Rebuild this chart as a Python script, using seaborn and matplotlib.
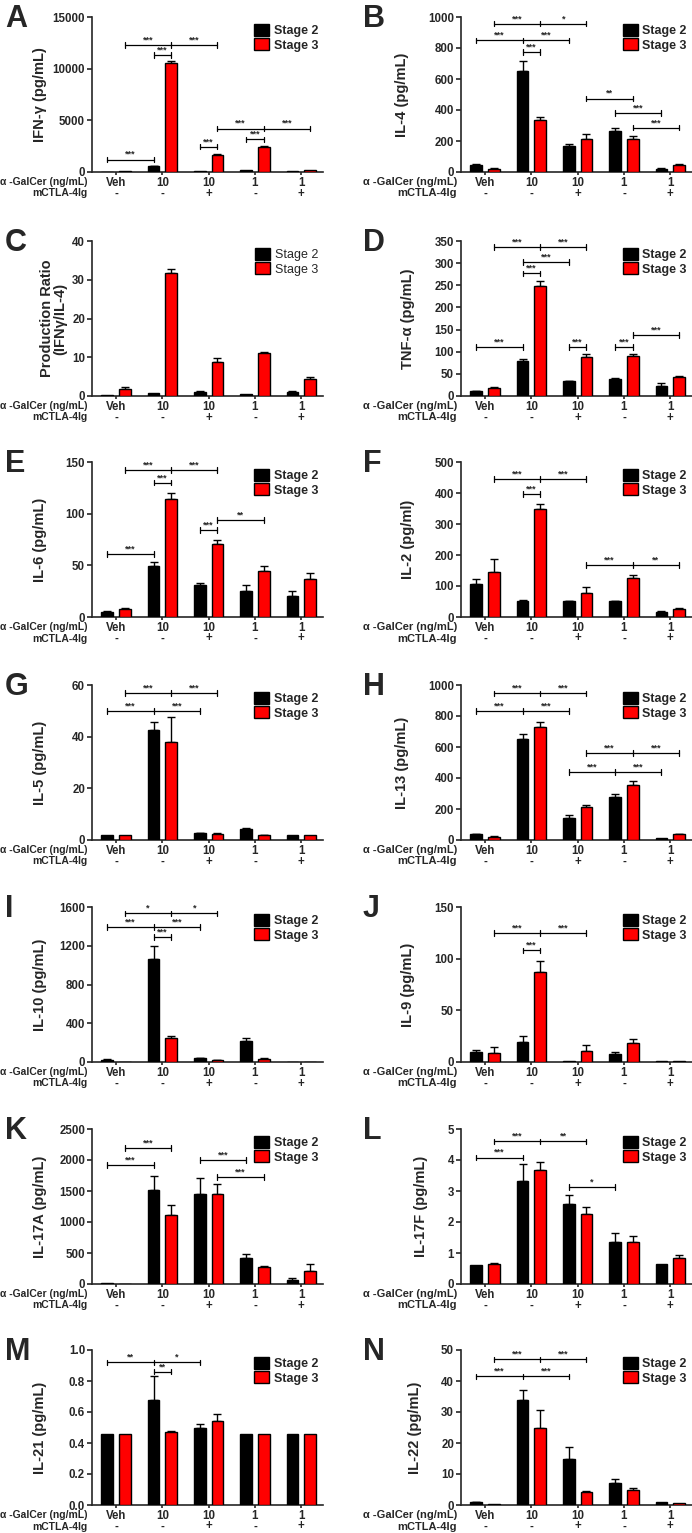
import matplotlib
matplotlib.use("Agg")
import matplotlib.pyplot as plt
import matplotlib.transforms as mtransforms
from matplotlib.container import BarContainer
from matplotlib.patches import Patch
import pandas as pd
import seaborn as sns

# categories
groups = ["Veh", "10", "10+", "1", "1+"]
dose_labels = ["Veh", "10", "10", "1", "1"]
ctla_labels = ["-", "-", "+", "-", "+"]
stages = ["Stage 2", "Stage 3"]
colors = ["black", "#ff0000"]

# values: mean stage 2 / stage 3, upper SEM
ifng_s2 = [30, 550, 130, 150, 50]
ifng_s3 = [50, 10550, 1680, 2400, 150]
ifng_e2 = [0, 60, 0, 0, 0]
ifng_e3 = [0, 200, 80, 150, 0]

il4_s2 = [48, 654, 167, 264, 22]
il4_s3 = [22, 335, 210, 214, 48]
il4_e2 = [4, 60, 15, 22, 3]
il4_e3 = [5, 22, 32, 18, 3]

ratio_s2 = [0.3, 0.8, 1.0, 0.6, 1.0]
ratio_s3 = [1.7, 31.8, 8.8, 11.2, 4.3]
ratio_e2 = [0, 0, 0.2, 0, 0.2]
ratio_e3 = [0.6, 1.0, 1.1, 0.2, 0.5]

tnf_s2 = [11, 78, 33, 39, 23]
tnf_s3 = [19, 249, 89, 91, 43]
tnf_e2 = [1, 5, 2, 2, 7]
tnf_e3 = [2, 10, 6, 4, 3]

il6_s2 = [5.2, 49.6, 31, 25.6, 20.7]
il6_s3 = [8, 114, 71, 45, 37]
il6_e2 = [0.8, 4, 2, 5, 4.5]
il6_e3 = [0.8, 6, 4, 4, 6]

il2_s2 = [108, 53, 51, 51, 17]
il2_s3 = [146, 348, 77, 125, 27]
il2_e2 = [15, 2, 2, 2, 1]
il2_e3 = [40, 15, 19, 10, 3]

il5_s2 = [1.8, 42.7, 2.7, 4.3, 1.8]
il5_s3 = [1.8, 38, 2.5, 2.0, 1.8]
il5_e2 = [0, 3.1, 0.2, 0.4, 0]
il5_e3 = [0, 9.5, 0.2, 0.1, 0]

il13_s2 = [37, 649, 141, 275, 11]
il13_s3 = [20, 729, 210, 355, 37]
il13_e2 = [3, 33, 19, 21, 0]
il13_e3 = [3, 31, 15, 28, 2]

il10_s2 = [24, 1062, 42, 212, 0]
il10_s3 = [3, 247, 21, 28, 0]
il10_e2 = [4, 139, 3, 34, 0]
il10_e3 = [0, 17, 2, 10, 0]

il9_s2 = [10, 19.4, 1.3, 8, 0.5]
il9_s3 = [9, 87, 11, 18.8, 0.5]
il9_e2 = [2, 5.6, 0, 2, 0]
il9_e3 = [5.6, 11, 5, 3.2, 0]

il17a_s2 = [10, 1511, 1446, 413, 71]
il17a_s3 = [0, 1109, 1446, 277, 217]
il17a_e2 = [0, 234, 261, 65, 27]
il17a_e3 = [0, 168, 163, 16, 109]

il17f_s2 = [0.61, 3.33, 2.59, 1.35, 0.66]
il17f_s3 = [0.64, 3.68, 2.25, 1.36, 0.84]
il17f_e2 = [0, 0.54, 0.28, 0.30, 0]
il17f_e3 = [0.03, 0.24, 0.24, 0.18, 0.10]

il21_s2 = [0.46, 0.68, 0.50, 0.46, 0.46]
il21_s3 = [0.46, 0.47, 0.54, 0.46, 0.46]
il21_e2 = [0, 0.15, 0.02, 0, 0]
il21_e3 = [0, 0.005, 0.05, 0, 0]

il22_s2 = [0.9, 34, 14.7, 7, 0.9]
il22_s3 = [0.3, 25, 4.2, 5, 0.6]
il22_e2 = [0.2, 3, 4, 1.5, 0]
il22_e3 = [0, 5.5, 0.3, 0.5, 0]

# significance brackets: (bars as (group, stage), height, labels)
ifng_sig = [([(0, 0), (1, 0)], 1200, ["***"]),
            ([(0, 1), (1, 1), (2, 1)], 12300, ["***", "***"]),
            ([(1, 0), (1, 1)], 11300, ["***"]),
            ([(2, 0), (2, 1)], 2450, ["***"]),
            ([(3, 0), (3, 1)], 3150, ["***"]),
            ([(2, 1), (3, 1), (4, 1)], 4200, ["***", "***"])]
il4_sig = [([(0, 1), (1, 1), (2, 1)], 957, ["***", "*"]),
           ([(0, 0), (1, 0), (2, 0)], 849, ["***", "***"]),
           ([(1, 0), (1, 1)], 775, ["***"]),
           ([(2, 1), (3, 1)], 474, ["**"]),
           ([(3, 0), (4, 0)], 379, ["***"]),
           ([(3, 1), (4, 1)], 286, ["***"])]
tnf_sig = [([(0, 1), (1, 1), (2, 1)], 337, ["***", "***"]),
           ([(1, 0), (2, 0)], 303, ["***"]),
           ([(1, 0), (1, 1)], 277, ["***"]),
           ([(0, 0), (1, 0)], 110, ["***"]),
           ([(2, 0), (2, 1)], 110, ["***"]),
           ([(3, 0), (3, 1)], 110, ["***"]),
           ([(3, 1), (4, 1)], 138, ["***"])]
il6_sig = [([(0, 1), (1, 1), (2, 1)], 142, ["***", "***"]),
           ([(1, 0), (1, 1)], 130, ["***"]),
           ([(0, 0), (1, 0)], 61, ["***"]),
           ([(2, 0), (2, 1)], 84, ["***"]),
           ([(2, 1), (3, 1)], 94, ["**"])]
il2_sig = [([(0, 1), (1, 1), (2, 1)], 446, ["***", "***"]),
           ([(1, 0), (1, 1)], 396, ["***"]),
           ([(2, 1), (3, 1), (4, 1)], 167, ["***", "**"])]
il5_sig = [([(0, 1), (1, 1), (2, 1)], 56.8, ["***", "***"]),
           ([(0, 0), (1, 0), (2, 0)], 50, ["***", "***"])]
il13_sig = [([(0, 1), (1, 1), (2, 1)], 946, ["***", "***"]),
            ([(0, 0), (1, 0), (2, 0)], 833, ["***", "***"]),
            ([(2, 1), (3, 1), (4, 1)], 560, ["***", "***"]),
            ([(2, 0), (3, 0), (4, 0)], 437, ["***", "***"])]
il10_sig = [([(0, 1), (1, 1), (2, 1)], 1535, ["*", "*"]),
            ([(0, 0), (1, 0), (2, 0)], 1392, ["***", "***"]),
            ([(1, 0), (1, 1)], 1288, ["***"])]
il9_sig = [([(0, 1), (1, 1), (2, 1)], 125, ["***", "***"]),
           ([(1, 0), (1, 1)], 108, ["***"])]
il17a_sig = [([(0, 0), (1, 0)], 1918, ["***"]),
             ([(0, 1), (1, 1)], 2190, ["***"]),
             ([(2, 0), (3, 0)], 2000, ["***"]),
             ([(2, 1), (3, 1)], 1728, ["***"])]
il17f_sig = [([(0, 1), (1, 1), (2, 1)], 4.6, ["***", "**"]),
             ([(0, 0), (1, 0)], 4.08, ["***"]),
             ([(2, 0), (3, 0)], 3.12, ["*"])]
il21_sig = [([(0, 0), (1, 0), (2, 0)], 0.92, ["**", "*"]),
            ([(1, 0), (1, 1)], 0.86, ["**"])]
il22_sig = [([(0, 1), (1, 1), (2, 1)], 47, ["***", "***"]),
            ([(0, 0), (1, 0), (2, 0)], 41.5, ["***", "***"])]

panels = [
    ("A", "IFN-γ (pg/mL)", ifng_s2, ifng_s3, ifng_e2, ifng_e3, [0, 5000, 10000, 15000], ifng_sig, "bold"),
    ("B", "IL-4 (pg/mL)", il4_s2, il4_s3, il4_e2, il4_e3, [0, 200, 400, 600, 800, 1000], il4_sig, "bold"),
    ("C", "Production Ratio\n(IFNγ/IL-4)", ratio_s2, ratio_s3, ratio_e2, ratio_e3, [0, 10, 20, 30, 40], [], "normal"),
    ("D", "TNF-α (pg/mL)", tnf_s2, tnf_s3, tnf_e2, tnf_e3, [0, 50, 100, 150, 200, 250, 300, 350], tnf_sig, "bold"),
    ("E", "IL-6 (pg/mL)", il6_s2, il6_s3, il6_e2, il6_e3, [0, 50, 100, 150], il6_sig, "bold"),
    ("F", "IL-2 (pg/ml)", il2_s2, il2_s3, il2_e2, il2_e3, [0, 100, 200, 300, 400, 500], il2_sig, "bold"),
    ("G", "IL-5 (pg/mL)", il5_s2, il5_s3, il5_e2, il5_e3, [0, 20, 40, 60], il5_sig, "bold"),
    ("H", "IL-13 (pg/mL)", il13_s2, il13_s3, il13_e2, il13_e3, [0, 200, 400, 600, 800, 1000], il13_sig, "bold"),
    ("I", "IL-10 (pg/mL)", il10_s2, il10_s3, il10_e2, il10_e3, [0, 400, 800, 1200, 1600], il10_sig, "bold"),
    ("J", "IL-9 (pg/mL)", il9_s2, il9_s3, il9_e2, il9_e3, [0, 50, 100, 150], il9_sig, "bold"),
    ("K", "IL-17A (pg/mL)", il17a_s2, il17a_s3, il17a_e2, il17a_e3, [0, 500, 1000, 1500, 2000, 2500], il17a_sig, "bold"),
    ("L", "IL-17F (pg/mL)", il17f_s2, il17f_s3, il17f_e2, il17f_e3, [0, 1, 2, 3, 4, 5], il17f_sig, "bold"),
    ("M", "IL-21 (pg/mL)", il21_s2, il21_s3, il21_e2, il21_e3, [0.0, 0.2, 0.4, 0.6, 0.8, 1.0], il21_sig, "bold"),
    ("N", "IL-22 (pg/mL)", il22_s2, il22_s3, il22_e2, il22_e3, [0, 10, 20, 30, 40, 50], il22_sig, "bold"),
]

sns.set_style("ticks")
plt.rcParams["font.family"] = ["Liberation Sans", "DejaVu Sans"]
plt.rcParams["font.weight"] = "bold"
plt.rcParams["axes.labelweight"] = "bold"

W, H = 692, 1533
fig = plt.figure(figsize=(W / 100, H / 100), dpi=100)

row_tops = [17, 241, 462, 685, 907, 1129, 1350]
col_lefts = [92, 461]
ax_w, ax_h = 231, 155

for k, (letter, ylab, s2, s3, e2, e3, yticks, sig, legw) in enumerate(panels):
    row, col = divmod(k, 2)
    left, top = col_lefts[col], row_tops[row]
    ax = fig.add_axes([left / W, 1 - (top + ax_h) / H, ax_w / W, ax_h / H])

    df = pd.DataFrame({"group": groups * 2,
                       "stage": [stages[0]] * 5 + [stages[1]] * 5,
                       "value": s2 + s3})
    sns.barplot(data=df, x="group", y="value", hue="stage", order=groups,
                hue_order=stages, palette=colors, saturation=1,
                edgecolor="black", linewidth=1.0, width=0.76, gap=0.34,
                errorbar=None, legend=False, ax=ax, zorder=3)

    errs = [e2, e3]
    pos = {}
    bar_conts = [c for c in ax.containers if isinstance(c, BarContainer)]
    for si, cont in enumerate(bar_conts):
        for p in cont.patches:
            cx = p.get_x() + p.get_width() / 2
            gi = int(round(cx))
            pos[(gi, si)] = (cx, p.get_height())
            e = errs[si][gi]
            if e > 0:
                ax.errorbar(cx, p.get_height(), yerr=[[0], [e]], fmt="none",
                            ecolor="black", elinewidth=1.0, capsize=2.8,
                            capthick=1.0, zorder=2)

    ymax = yticks[-1]
    ax.set_xlim(-0.52, 4.47)
    ax.set_ylim(0, ymax)
    ax.set_yticks(yticks)
    if letter == "M":
        ax.set_yticklabels([f"{t:.1f}" for t in yticks])
    ax.set_xticks(range(5))
    ax.set_xticklabels(dose_labels)
    ax.tick_params(axis="both", labelsize=8.3, width=1.2, length=3.5, pad=1.5)
    ax.tick_params(axis="x", length=2.5, pad=1.0)
    for lbl in ax.get_xticklabels() + ax.get_yticklabels():
        lbl.set_fontweight("bold")
    ax.set_xlabel("")
    ax.set_ylabel(ylab, fontsize=10.5, fontweight="bold", linespacing=1.0,
                  labelpad=14)
    if col == 0:
        ax.yaxis.set_label_coords(-0.105 if letter == "C" else -0.195, 0.5)
    sns.despine(ax=ax)
    for sp in ["left", "bottom"]:
        ax.spines[sp].set_linewidth(1.2)

    # second row of condition labels
    rl_size = 7.5 if col == 0 else 8
    trans = mtransforms.blended_transform_factory(ax.transData, ax.transAxes)
    off = mtransforms.ScaledTranslation(0, -21.5 / 100, fig.dpi_scale_trans)
    for gi, lab in enumerate(ctla_labels):
        ax.text(gi, 0, lab, transform=trans + off, ha="center", va="center",
                fontsize=8.3, fontweight="bold")
    off1 = mtransforms.ScaledTranslation(-4 / 100, -9.7 / 100, fig.dpi_scale_trans)
    ax.text(0, 0, "α -GalCer (ng/mL)", transform=ax.transAxes + off1,
            ha="right", va="center", fontsize=rl_size, fontweight="bold")
    off2 = mtransforms.ScaledTranslation(-4 / 100, -21.5 / 100, fig.dpi_scale_trans)
    ax.text(0, 0, "mCTLA-4Ig", transform=ax.transAxes + off2,
            ha="right", va="center", fontsize=rl_size, fontweight="bold")

    # significance brackets
    tick = ymax * 0.018
    for bars, y, labs in sig:
        xs = [pos[b][0] for b in bars]
        ax.plot([xs[0], xs[-1]], [y, y], color="black", lw=0.9, zorder=4)
        for x in xs:
            ax.plot([x, x], [y - tick, y + tick], color="black", lw=0.9, zorder=4)
        for i, lab in enumerate(labs):
            ax.text((xs[i] + xs[i + 1]) / 2, y + tick * 0.2, lab, ha="center",
                    va="bottom", fontsize=6.5, fontweight="bold")

    handles = [Patch(facecolor=c, edgecolor="black", linewidth=1.0) for c in colors]
    ax.legend(handles, stages, loc="upper right", bbox_to_anchor=(1.0, 0.99),
              frameon=False, handlelength=1.2, handleheight=1.1,
              handletextpad=0.4, labelspacing=0.12, borderaxespad=0.0,
              prop={"weight": legw, "size": 9})

    lx = 5 if col == 0 else 363
    fig.text(lx / W, 1 - (top - 13) / H, letter, fontsize=22, fontweight="bold",
             ha="left", va="top")

fig.savefig("out.png", dpi=100)
